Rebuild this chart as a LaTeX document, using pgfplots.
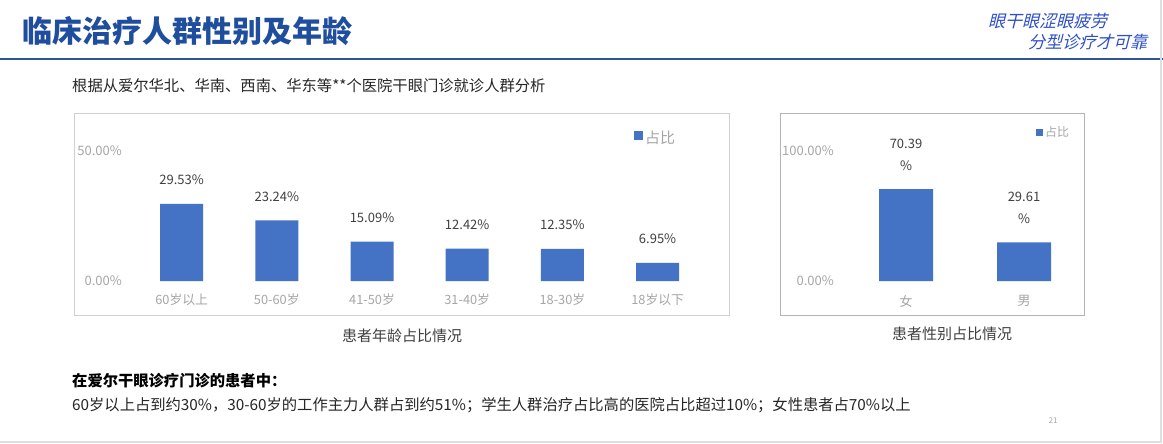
\documentclass[border=0pt]{standalone}
\usepackage{pgfplots}
\pgfplotsset{compat=1.18}
\usepackage{fontspec}
\setmainfont{Noto Sans CJK SC}
\newfontfamily\slogan[FakeSlant=0.25]{Noto Sans CJK SC}
\definecolor{barblue}{HTML}{4472C4}
\definecolor{titleblue}{HTML}{1F4E9E}
\definecolor{lineblue}{HTML}{2F5597}
\definecolor{tickgray}{HTML}{A6A6A6}
\definecolor{labgray}{HTML}{404040}
\definecolor{framegray}{HTML}{D0D0D0}
\definecolor{framegrayb}{HTML}{B4B4B4}
\definecolor{slogblue}{HTML}{2E4FC8}
\definecolor{textblack}{HTML}{262626}
\begin{document}
\begin{tikzpicture}[x=1pt,y=1pt]
\fill[white] (0,0) rectangle (1163,-444);
\path[use as bounding box] (0,0) rectangle (1163,-444);
\coordinate (ageorigin) at (134,-281);
\coordinate (sexorigin) at (847,-281);
% slide decoration
\node[anchor=west, inner sep=0pt, text=titleblue, font=\bfseries\fontsize{30}{32}\selectfont] at (22,-31) {临床治疗人群性别及年龄};
\draw[lineblue, line width=2pt] (0,-59) -- (1163,-59);
\node[anchor=west, inner sep=0pt, text=slogblue, font=\slogan\fontsize{17}{19}\selectfont] at (988,-21) {眼干眼涩眼疲劳};
\node[anchor=west, inner sep=0pt, text=slogblue, font=\slogan\fontsize{17}{19}\selectfont] at (1028,-42) {分型诊疗才可靠};
\node[anchor=west, inner sep=0pt, text=textblack, font=\fontsize{15.3}{18}\selectfont] at (72,-86) {根据从爱尔华北、华南、西南、华东等**个医院干眼门诊就诊人群分析};
\draw[framegray, line width=1pt] (74,-114) rectangle (729,-315);
\draw[framegrayb, line width=1pt] (780,-114) rectangle (1084,-315);
\node[text=labgray, font=\fontsize{15}{17}\selectfont] at (402,-336) {患者年龄占比情况};
\node[text=labgray, font=\fontsize{15}{17}\selectfont] at (952,-334) {患者性别占比情况};
\node[anchor=west, inner sep=0pt, text=black, font=\bfseries\fontsize{15.3}{18}\selectfont] at (72,-381) {在爱尔干眼诊疗门诊的患者中：};
\node[anchor=west, inner sep=0pt, text=textblack, font=\fontsize{15.3}{18}\selectfont] at (72,-405) {60岁以上占到约30\%，30-60岁的工作主力人群占到约51\%；学生人群治疗占比高的医院占比超过10\%；女性患者占70\%以上};
\node[text=tickgray, font=\fontsize{8}{9}\selectfont] at (1053,-421) {21};
\draw[gray!25, line width=1.5pt] (1161,0) -- (1161,-442) -- (0,-442);
% age chart
\begin{axis}[
  at={(ageorigin)}, anchor=south west, scale only axis,
  width=571.2pt, height=130.4pt,
  xmin=-0.5, xmax=5.5, ymin=0, ymax=50,
  axis line style={draw=none}, major tick length=0pt,
  ytick={0,50}, yticklabels={0.00\%,50.00\%},
  xtick={0,...,5}, xticklabels={60岁以上,50-60岁,41-50岁,31-40岁,18-30岁,18岁以下},
  yticklabel style={font=\fontsize{13}{15}\selectfont, text=tickgray, anchor=east, inner sep=0pt, xshift=-12pt},
  xticklabel style={font=\fontsize{12.8}{15}\selectfont, text=tickgray, anchor=center, inner sep=0pt, yshift=-19pt},
  ybar, bar width=43pt,
  point meta=explicit symbolic, nodes near coords,
  every node near coord/.append style={font=\fontsize{13}{15}\selectfont, text=labgray, anchor=center, yshift=24pt},
  clip=false,
  legend style={at={(0.875,1.10)}, anchor=west, draw=none, fill=none, font=\fontsize{15}{17}\selectfont, text=tickgray, inner sep=0pt},
  legend image code/.code={\fill[barblue] (0pt,-2.5pt) rectangle (9pt,6.5pt);},
]
\addplot[fill=barblue, draw=none] coordinates {(0,29.53) [29.53\%] (1,23.24) [23.24\%] (2,15.09) [15.09\%] (3,12.42) [12.42\%] (4,12.35) [12.35\%] (5,6.95) [6.95\%]};
\legend{占比}
\end{axis}
% gender chart
\begin{axis}[
  at={(sexorigin)}, anchor=south west, scale only axis,
  width=236pt, height=130.7pt,
  xmin=-0.5, xmax=1.5, ymin=0, ymax=100,
  axis line style={draw=none}, major tick length=0pt,
  ytick={0,100}, yticklabels={0.00\%,100.00\%},
  xtick={0,1}, xticklabels={女,男},
  yticklabel style={font=\fontsize{13}{15}\selectfont, text=tickgray, anchor=east, inner sep=0pt, xshift=-13pt},
  xticklabel style={font=\fontsize{13}{15}\selectfont, text=tickgray, anchor=center, inner sep=0pt, yshift=-20pt},
  ybar, bar width=54pt,
  point meta=explicit symbolic, nodes near coords,
  every node near coord/.append style={font=\fontsize{13}{22}\selectfont, text=labgray, align=center, anchor=center, yshift=34pt},
  clip=false,
  legend style={at={(0.80,1.136)}, anchor=west, draw=none, fill=none, font=\fontsize{12}{14}\selectfont, text=tickgray, inner sep=0pt},
  legend image code/.code={\fill[barblue] (0pt,-3.5pt) rectangle (7pt,3.5pt);},
]
\addplot[fill=barblue, draw=none] coordinates {(0,70.39) [{70.39\\\%}] (1,29.61) [{29.61\\\%}]};
\legend{占比}
\end{axis}
\end{tikzpicture}
\end{document}
